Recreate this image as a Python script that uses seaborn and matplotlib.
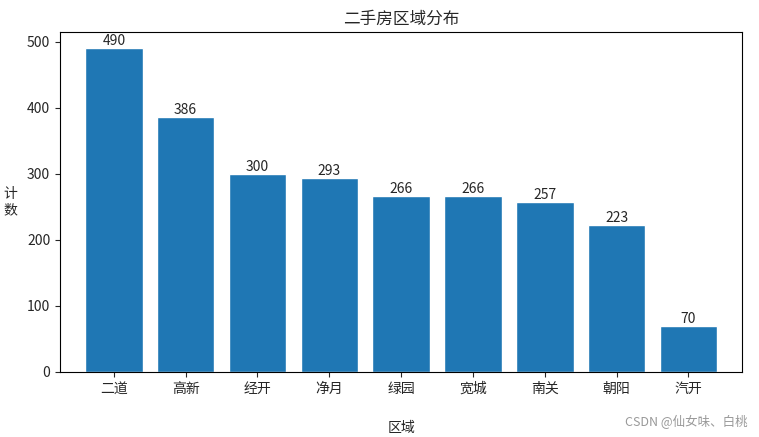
import matplotlib
matplotlib.use("Agg")
import matplotlib.pyplot as plt
import seaborn as sns
import pandas as pd

regions = ["二道", "高新", "经开", "净月", "绿园", "宽城", "南关", "朝阳", "汽开"]
counts = [490, 386, 300, 293, 266, 266, 257, 223, 70]

sns.set_style("ticks")
plt.rcParams['font.family'] = ['Noto Sans CJK SC', 'DejaVu Sans']

df = pd.DataFrame({"区域": regions, "计数": counts})
fig = plt.figure(figsize=(7.59, 4.37), dpi=100)
ax = fig.add_axes([0.079, 0.149, 0.899, 0.778])
sns.barplot(data=df, x="区域", y="计数", color="#1f77b4", saturation=1, width=0.8, ax=ax)
for c in ax.containers:
    ax.bar_label(c, fontsize=10, padding=0)
ax.set_xlim(-0.75, 8.75)
ax.set_ylim(0, 515)
ax.set_title("二手房区域分布", fontsize=12)
ax.set_xlabel("区域", fontsize=10, labelpad=18)
ax.set_ylabel("计\n数", rotation=0, fontsize=10, labelpad=12, va="center")
for s in ax.spines.values():
    s.set_visible(True)
    s.set_color("black")
fig.text(0.985, 0.025, "CSDN @仙女味、白桃", ha="right", fontsize=9, color="#999999")
fig.savefig("out.png", dpi=100)
